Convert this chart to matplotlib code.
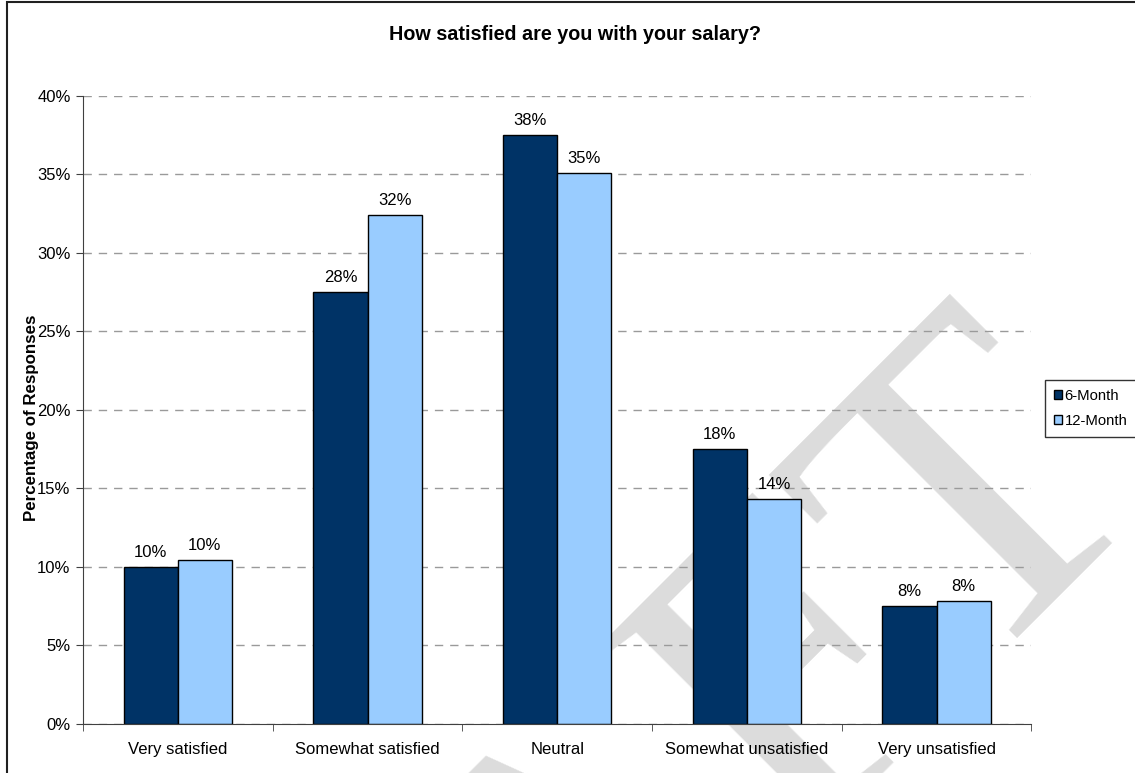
"""
Salary satisfaction survey: 6-month vs 12-month responses.
"""

import matplotlib.pyplot as plt
import numpy as np
from matplotlib.patches import Rectangle

categories = [
    "Very satisfied",
    "Somewhat satisfied",
    "Neutral",
    "Somewhat unsatisfied",
    "Very unsatisfied",
]
six_month = [10.0, 27.5, 37.5, 17.5, 7.5]
twelve_month = [10.4, 32.4, 35.1, 14.3, 7.8]
six_month_labels = ["10%", "28%", "38%", "18%", "8%"]
twelve_month_labels = ["10%", "32%", "35%", "14%", "8%"]
y_ticks = [0, 5, 10, 15, 20, 25, 30, 35, 40]

plt.rcParams["font.family"] = ["Liberation Sans", "DejaVu Sans"]

W, H = 1135, 773
fig = plt.figure(figsize=(W / 100, H / 100), dpi=100)
ax = fig.add_axes([83 / W, 1 - 723.5 / H, (1031.4 - 83) / W, (723.5 - 96) / H])
ax.patch.set_alpha(0)

x = np.arange(len(categories))
width = 1 / 3.5
b1 = ax.bar(x - width / 2, six_month, width, color="#003366",
            edgecolor="black", linewidth=1, label="6-Month", zorder=3)
b2 = ax.bar(x + width / 2, twelve_month, width, color="#99ccff",
            edgecolor="black", linewidth=1, label="12-Month", zorder=3)
ax.bar_label(b1, labels=six_month_labels, padding=5, fontsize=12)
ax.bar_label(b2, labels=twelve_month_labels, padding=5, fontsize=12)

ax.set_xlim(-0.5, len(categories) - 0.5)
ax.set_ylim(0, 40)
ax.set_yticks(y_ticks)
ax.set_yticklabels([f"{t}%" for t in y_ticks])
ax.set_xticks(x)
ax.set_xticklabels(categories)
ax.set_xticks(np.arange(len(categories) + 1) - 0.5, minor=True)
ax.tick_params(axis="x", which="major", length=0, pad=13, labelsize=12)
ax.tick_params(axis="x", which="minor", length=5, color="#404040")
ax.tick_params(axis="y", length=5, color="#404040", labelsize=12, pad=4)

ax.yaxis.grid(True, linestyle=(0, (6, 5)), color="#9a9a9a", linewidth=1, zorder=1)
ax.set_axisbelow(False)
for s in ["top", "right"]:
    ax.spines[s].set_visible(False)
for s in ["left", "bottom"]:
    ax.spines[s].set_color("#404040")
    ax.spines[s].set_zorder(4)

fig.text(575 / W, 1 - 35 / H, "How satisfied are you with your salary?",
         ha="center", va="center", fontsize=14.2, fontweight="bold")
fig.text(32 / W, 1 - 418 / H, "Percentage of Responses", rotation=90,
         ha="center", va="center", fontsize=12.2, fontweight="bold")

leg = fig.legend(loc="center left", bbox_to_anchor=(1045 / W, 1 - 408.5 / H),
                 fontsize=10.7, frameon=True, fancybox=False, edgecolor="black",
                 handlelength=0.55, handleheight=0.55, handletextpad=0.15,
                 borderpad=0.62, labelspacing=0.75, borderaxespad=0)
leg.get_frame().set_linewidth(1)

# watermark
fig.text(1158 / W, 1 - 485 / H, "DRAFT", rotation=45, rotation_mode="anchor",
         ha="right", va="baseline", fontsize=320, color="#dcdcdc",
         family="Liberation Serif", zorder=-1)

fig.patches.append(Rectangle((7 / W, -0.05), 1.1, 1 - 2 / H + 0.05,
                             transform=fig.transFigure, fill=False,
                             edgecolor="#202020", linewidth=1.5))

fig.savefig("out.png", dpi=100)
